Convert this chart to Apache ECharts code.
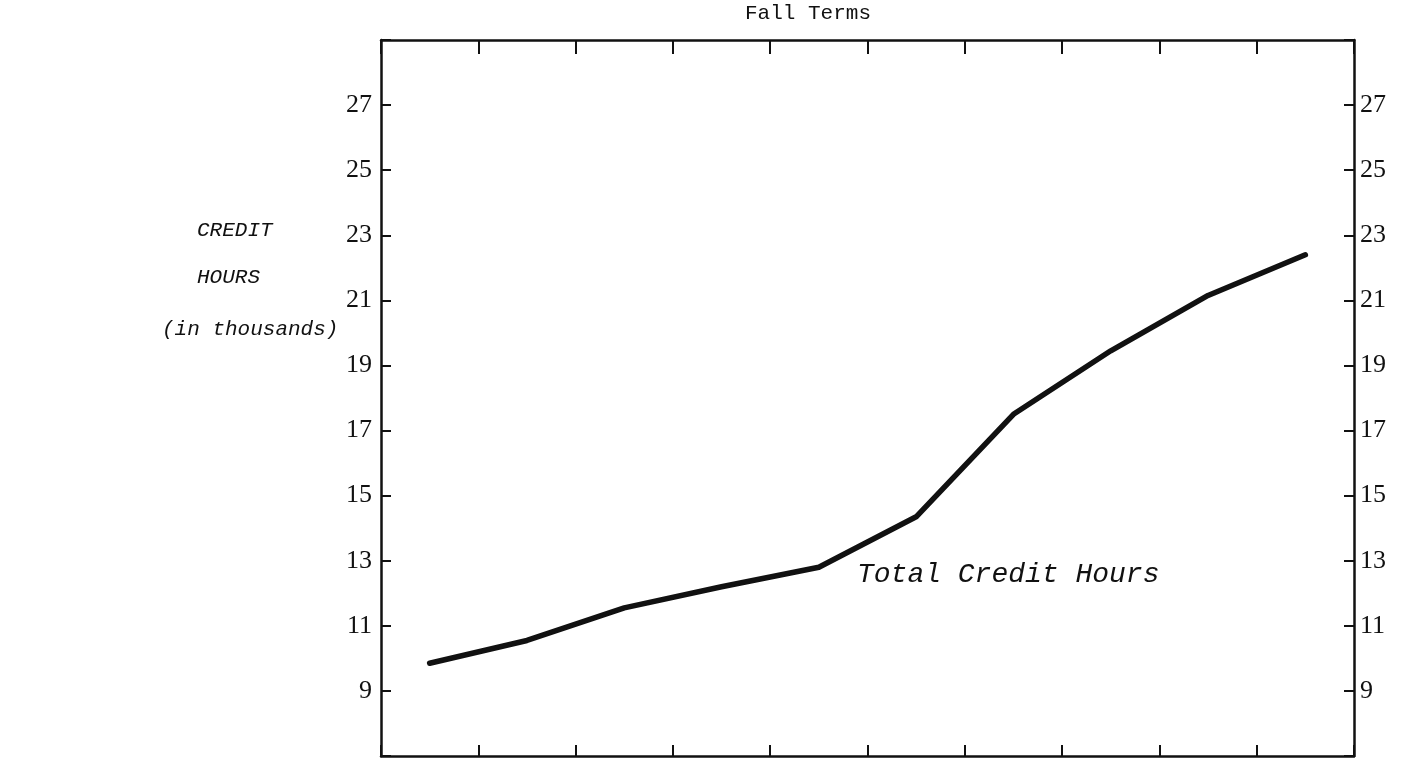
<!DOCTYPE html>
<html>
<head>
<meta charset="utf-8">
<script src="https://cdn.jsdelivr.net/npm/echarts@6/dist/echarts.min.js"></script>
<style>
  html, body { margin: 0; padding: 0; background: #fff; }
  #chart { width: 1403px; height: 759px; }
</style>
</head>
<body>
<div id="chart"></div>
<script>
// Fall term credit hours, in thousands
const terms = ['T1', 'T2', 'T3', 'T4', 'T5', 'T6', 'T7', 'T8', 'T9', 'T10'];
const totalCreditHours = [9.85, 10.55, 11.55, 12.2, 12.8, 14.35, 17.5, 19.45, 21.15, 22.4];
const yTickValues = [9, 11, 13, 15, 17, 19, 21, 23, 25, 27];

const INK = '#111';
const mono = '"Liberation Mono", "DejaVu Sans Mono", monospace';
const serif = '"Liberation Serif", "DejaVu Serif", serif';

const chart = echarts.init(document.getElementById('chart'), null, { renderer: 'canvas' });

const yLabel = {
  fontFamily: serif,
  fontSize: 26,
  color: INK,
  verticalAlign: 'middle',
  lineHeight: 26,
  padding: [0, 0, 6, 0],
  formatter: v => (yTickValues.includes(v) ? String(v) : '')
};

const xAxisBase = {
  type: 'category',
  data: terms,
  boundaryGap: true,
  axisLine: { show: true, lineStyle: { color: INK, width: 2.5 } },
  axisTick: { show: true, inside: true, length: 11, lineStyle: { color: INK, width: 2 } },
  axisLabel: { show: false },
  splitLine: { show: false }
};

const yAxisBase = {
  type: 'value',
  min: 7,
  max: 29,
  interval: 2,
  axisLine: { show: true, lineStyle: { color: INK, width: 2.5 } },
  axisTick: { show: true, inside: true, length: 10, lineStyle: { color: INK, width: 2 } },
  splitLine: { show: false }
};

chart.setOption({
  backgroundColor: '#fff',
  animation: false,
  grid: { left: 381, right: 49, top: 40, bottom: 3, containLabel: false },
  xAxis: [
    Object.assign({}, xAxisBase, { position: 'bottom' }),
    Object.assign({}, xAxisBase, { position: 'top', axisTick: Object.assign({}, xAxisBase.axisTick, { length: 14 }) })
  ],
  yAxis: [
    Object.assign({}, yAxisBase, { position: 'left', axisLabel: Object.assign({}, yLabel, { margin: 9 }) }),
    Object.assign({}, yAxisBase, { position: 'right', axisLabel: Object.assign({}, yLabel, { margin: 6 }) })
  ],
  series: [{
    name: 'Total Credit Hours',
    type: 'line',
    data: totalCreditHours,
    showSymbol: false,
    lineStyle: { color: INK, width: 5.5, cap: 'round', join: 'round' },
    silent: true
  }],
  graphic: [
    { type: 'text', x: 808, y: 13, style: { text: 'Fall Terms', font: '21px ' + mono, fill: INK, align: 'center', verticalAlign: 'middle' } },
    { type: 'text', x: 197, y: 230, style: { text: 'CREDIT', font: 'italic 21px ' + mono, fill: INK, verticalAlign: 'middle' } },
    { type: 'text', x: 197, y: 277, style: { text: 'HOURS', font: 'italic 21px ' + mono, fill: INK, verticalAlign: 'middle' } },
    { type: 'text', x: 162, y: 329, style: { text: '(in thousands)', font: 'italic 21px ' + mono, fill: INK, verticalAlign: 'middle' } },
    { type: 'text', x: 857, y: 575, style: { text: 'Total Credit Hours', font: 'italic 28px ' + mono, fill: INK, verticalAlign: 'middle' } }
  ]
});
</script>
</body>
</html>
